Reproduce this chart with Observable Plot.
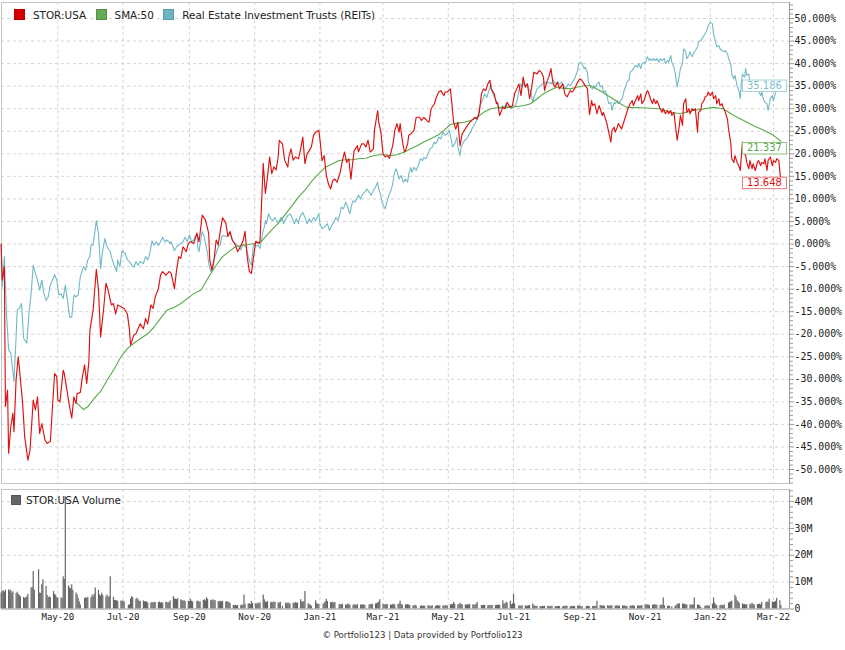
<!DOCTYPE html>
<html>
<head>
<meta charset="utf-8">
<script src="https://cdn.jsdelivr.net/npm/d3@7"></script>
<script src="https://cdn.jsdelivr.net/npm/@observablehq/plot@0.6"></script>
<style>
  html,body{margin:0;padding:0;background:#fff;}
  #chart{position:relative;width:845px;height:650px;overflow:hidden;background:#fff;}
  #main,#vol{position:absolute;left:0;}
  #main{top:0;} #vol{top:485px;}
  .legend{position:absolute;display:flex;align-items:center;height:13px;font:10.4px "DejaVu Sans";color:#222;white-space:nowrap;}
  .legend .item{display:flex;align-items:center;margin-right:9.5px;}
  .legend .sw{width:11px;height:11px;margin-right:8px;box-sizing:border-box;border:1px solid rgba(0,0,0,0.15);}
  #legVol .sw{width:10px;height:10px;margin-right:5px;}
  #caption{position:absolute;left:0;width:845px;top:630px;text-align:center;font:8.6px "DejaVu Sans";color:#333;}
</style>
</head>
<body>
<div id="chart">
  <div id="main"></div>
  <div id="vol"></div>
  <div class="legend" id="legMain" style="left:14px;top:8px;"></div>
  <div class="legend" id="legVol" style="left:11px;top:494px;height:12px;"></div>
  <div id="caption"></div>
</div>
<script>
// ---------- names, colours, ticks ----------
const seriesNames = ["STOR:USA", "SMA:50", "Real Estate Investment Trusts (REITs)"];
const seriesColors = ["#dd1111", "#55aa48", "#72b9c6"];
const swatchColors = ["#d40000", "#66aa55", "#6db5c3"];
const labelTextColors = ["#dd1111", "#5aaa4c", "#7dbfcc"];
const labelBorderColors = ["#e47777", "#8cc77f", "#a3d2db"];
const lastValues = [13.648, 21.337, 35.186];
const volumeName = "STOR:USA Volume";
const volumeColor = "#666666";
const captionText = "© Portfolio123 | Data provided by Portfolio123";
const monthTicks = ["2020-05-01","2020-07-01","2020-09-01","2020-11-01","2021-01-01","2021-03-01","2021-05-01","2021-07-01","2021-09-01","2021-11-01","2022-01-01","2022-03-01"];
const pctTicks = [-50,-45,-40,-35,-30,-25,-20,-15,-10,-5,0,5,10,15,20,25,30,35,40,45,50];
const volTicks = [0,10,20,30,40];
const volTickLabels = ["0","10M","20M","30M","40M"];

// ---------- STOR:USA (% change) ----------
const stor = [
["2020-03-09",0],["2020-03-10",-8],["2020-03-12",-5],["2020-03-13",-36],["2020-03-15",-32.4],["2020-03-16",-46.4],["2020-03-18",-40.5],["2020-03-20",-37.5],["2020-03-21",-41.6],["2020-03-23",-30],["2020-03-25",-25],["2020-03-27",-30],["2020-03-29",-35],["2020-03-31",-42.7],
["2020-04-03",-47.9],["2020-04-05",-45.7],["2020-04-08",-34.6],["2020-04-10",-36.8],["2020-04-12",-33.9],["2020-04-14",-42],["2020-04-16",-39.8],["2020-04-19",-43.5],["2020-04-21",-44.2],["2020-04-24",-43.8],["2020-04-26",-36.1],["2020-04-28",-28.7],["2020-04-30",-29.4],
["2020-05-01",-34.6],["2020-05-03",-35],["2020-05-06",-28],["2020-05-07",-28.7],["2020-05-09",-31.6],["2020-05-12",-36.1],["2020-05-14",-38.6],["2020-05-16",-33.9],["2020-05-18",-35.4],["2020-05-19",-33.2],["2020-05-22",-32.9],["2020-05-24",-29.4],["2020-05-26",-26.8],["2020-05-28",-30.9],["2020-05-30",-26.1],["2020-05-31",-19.1],
["2020-06-03",-14.6],["2020-06-06",-5.6],["2020-06-08",-10.2],["2020-06-10",-20.6],["2020-06-13",-13.9],["2020-06-15",-8.7],["2020-06-17",-10.2],["2020-06-20",-13.5],["2020-06-22",-13.2],["2020-06-24",-15.5],["2020-06-26",-13.5],["2020-06-29",-13.9],
["2020-07-02",-14.3],["2020-07-05",-15.5],["2020-07-07",-19.1],["2020-07-08",-22.4],["2020-07-11",-20.2],["2020-07-13",-19.9],["2020-07-15",-18.8],["2020-07-17",-17.7],["2020-07-20",-18.8],["2020-07-22",-16.5],["2020-07-24",-17.7],["2020-07-27",-13.5],["2020-07-29",-14.3],["2020-07-31",-11.8],
["2020-08-03",-9.9],["2020-08-05",-6.9],["2020-08-07",-6.1],["2020-08-10",-6.9],["2020-08-13",-6.1],["2020-08-15",-6.5],["2020-08-18",-9.9],["2020-08-20",-5.8],["2020-08-22",-2.8],["2020-08-24",-3.2],["2020-08-26",-0.6],["2020-08-29",-1.7],["2020-08-31",0.15],
["2020-09-02",0.5],["2020-09-05",0.1],["2020-09-08",2.4],["2020-09-10",0.5],["2020-09-13",6.4],["2020-09-16",5.3],["2020-09-19",2.4],["2020-09-20",-3.5],["2020-09-22",-5.8],["2020-09-24",-3.5],["2020-09-26",0.9],["2020-09-28",-0.2],["2020-09-30",3.2],
["2020-10-02",5.8],["2020-10-05",4.7],["2020-10-07",1.7],["2020-10-09",2.8],["2020-10-11",0.9],["2020-10-14",-0.2],["2020-10-16",-1.7],["2020-10-18",-0.9],["2020-10-21",0.6],["2020-10-23",2.8],["2020-10-25",-2.8],["2020-10-27",-6.1],["2020-10-29",-6.5],["2020-10-31",-2.8],
["2020-11-02",0.6],["2020-11-05",0.1],["2020-11-06",0.6],["2020-11-09",17.9],["2020-11-11",11.2],["2020-11-13",14.9],["2020-11-15",19.3],["2020-11-17",15.6],["2020-11-19",17.1],["2020-11-21",16.4],["2020-11-23",19.3],["2020-11-24",23],["2020-11-27",22.2],["2020-11-29",18.6],
["2020-12-02",17.1],["2020-12-03",19.3],["2020-12-05",21.1],["2020-12-07",18.6],["2020-12-09",19.3],["2020-12-12",18.9],["2020-12-14",21.1],["2020-12-16",23.7],["2020-12-18",17.8],["2020-12-20",20],["2020-12-22",20.7],["2020-12-24",21.5],["2020-12-26",24.1],["2020-12-28",24.8],["2020-12-31",25.2],
["2021-01-01",23.3],["2021-01-03",18.5],["2021-01-05",19.6],["2021-01-07",15.2],["2021-01-09",13.3],["2021-01-11",12.2],["2021-01-13",14.1],["2021-01-15",14.4],["2021-01-17",13.7],["2021-01-20",15.9],["2021-01-22",18.5],["2021-01-24",20.4],["2021-01-26",18.1],["2021-01-28",18.9],["2021-01-30",14.4],["2021-01-31",16.7],
["2021-02-02",20.7],["2021-02-05",21.8],["2021-02-06",20.4],["2021-02-09",22.2],["2021-02-11",22.2],["2021-02-13",21.5],["2021-02-15",23],["2021-02-17",20.4],["2021-02-20",21.1],["2021-02-21",25.2],["2021-02-24",29.6],["2021-02-25",27],["2021-02-27",24.8],
["2021-03-01",20],["2021-03-03",19.3],["2021-03-05",19.6],["2021-03-07",19],["2021-03-10",21.8],["2021-03-11",23.3],["2021-03-12",25.2],["2021-03-14",26.7],["2021-03-16",24.8],["2021-03-17",26.7],["2021-03-19",23],["2021-03-21",20.4],["2021-03-22",20.7],["2021-03-24",22.2],["2021-03-25",24.1],["2021-03-27",24.4],["2021-03-30",25.2],
["2021-04-01",28.1],["2021-04-04",28.1],["2021-04-06",27.4],["2021-04-08",28.1],["2021-04-11",27.4],["2021-04-13",27],["2021-04-15",30],["2021-04-18",31.1],["2021-04-20",32.6],["2021-04-22",33.7],["2021-04-24",34],["2021-04-27",32.9],["2021-04-28",33.7],["2021-04-30",33.7],
["2021-05-03",34.4],["2021-05-05",29.6],["2021-05-06",27],["2021-05-08",25.5],["2021-05-10",27],["2021-05-12",21.8],["2021-05-14",24.4],["2021-05-16",25.2],["2021-05-19",26.3],["2021-05-21",27],["2021-05-23",27.4],["2021-05-26",28.1],["2021-05-28",27.7],["2021-05-30",29.2],
["2021-06-01",33.3],["2021-06-03",34.4],["2021-06-05",34],["2021-06-07",35.5],["2021-06-09",36.3],["2021-06-10",34.4],["2021-06-13",33.3],["2021-06-15",31.1],["2021-06-16",31.4],["2021-06-18",28.5],["2021-06-21",30.3],["2021-06-23",30],["2021-06-25",31.4],["2021-06-28",30.3],["2021-06-30",30.7],
["2021-07-02",33.3],["2021-07-04",34.4],["2021-07-06",35.5],["2021-07-08",32.9],["2021-07-10",37],["2021-07-12",34.8],["2021-07-14",35.5],["2021-07-16",32.2],["2021-07-18",34.8],["2021-07-20",38.1],["2021-07-23",37.7],["2021-07-25",38.5],["2021-07-27",38.1],["2021-07-29",37],["2021-07-30",34],
["2021-08-01",35.9],["2021-08-03",37],["2021-08-05",38.9],["2021-08-07",35.5],["2021-08-09",34.8],["2021-08-11",35.9],["2021-08-13",34.4],["2021-08-16",35.5],["2021-08-18",33.3],["2021-08-20",32.6],["2021-08-23",34],["2021-08-25",33.7],["2021-08-27",34.4],["2021-08-30",35.9],
["2021-09-01",36.6],["2021-09-03",36.3],["2021-09-05",35.5],["2021-09-06",35.1],["2021-09-08",34.5],["2021-09-10",28.7],["2021-09-12",31.8],["2021-09-13",30.7],["2021-09-15",31.1],["2021-09-17",28.9],["2021-09-19",30.7],["2021-09-20",30],["2021-09-22",28.5],["2021-09-23",29.2],["2021-09-26",27],["2021-09-28",24.8],["2021-09-30",22.6],
["2021-10-01",25.2],["2021-10-03",25.9],["2021-10-04",24.8],["2021-10-06",25.9],["2021-10-07",26.7],["2021-10-10",25.5],["2021-10-12",27],["2021-10-14",28.5],["2021-10-16",30],["2021-10-18",31.1],["2021-10-20",31.8],["2021-10-21",30.7],["2021-10-23",31.8],["2021-10-25",32.9],["2021-10-26",31.8],["2021-10-28",33.3],["2021-10-29",31.1],["2021-10-31",31.8],
["2021-11-01",32.6],["2021-11-03",34],["2021-11-04",33.7],["2021-11-06",32.2],["2021-11-08",31.1],["2021-11-09",32.2],["2021-11-11",31.1],["2021-11-12",31.8],["2021-11-14",30.7],["2021-11-15",30],["2021-11-17",29.2],["2021-11-18",30],["2021-11-20",28.9],["2021-11-22",29.6],["2021-11-23",28.9],["2021-11-25",29.6],["2021-11-26",28.5],["2021-11-28",29.2],["2021-11-29",27],
["2021-12-01",23],["2021-12-03",26.3],["2021-12-04",28.5],["2021-12-06",26.3],["2021-12-07",31.1],["2021-12-09",32.2],["2021-12-10",29.2],["2021-12-12",30],["2021-12-13",28.9],["2021-12-15",30],["2021-12-16",29.6],["2021-12-18",30],["2021-12-20",24.8],["2021-12-21",29.2],["2021-12-23",29.6],["2021-12-24",31.1],["2021-12-26",31.8],["2021-12-27",32.6],["2021-12-29",32.9],["2021-12-30",33.7],
["2022-01-01",32.9],["2022-01-03",33.7],["2022-01-04",32.2],["2022-01-06",32.9],["2022-01-07",31.1],["2022-01-09",32.2],["2022-01-10",30.7],["2022-01-12",31.1],["2022-01-13",30.3],["2022-01-15",29.2],["2022-01-17",27.7],["2022-01-18",25.5],["2022-01-20",22.6],["2022-01-21",18.9],["2022-01-23",18.1],["2022-01-24",19.6],["2022-01-26",18.1],["2022-01-28",17.1],["2022-01-29",16.3],["2022-01-31",22.6],
["2022-02-01",20.4],["2022-02-03",19.6],["2022-02-04",18.1],["2022-02-06",16.7],["2022-02-07",18.5],["2022-02-09",16.7],["2022-02-10",17.8],["2022-02-12",16.3],["2022-02-14",18.1],["2022-02-15",18.5],["2022-02-17",17.4],["2022-02-18",18.1],["2022-02-20",17.8],["2022-02-21",18.9],["2022-02-23",16.3],["2022-02-24",18.5],["2022-02-26",19.3],["2022-02-28",17.4],
["2022-03-01",18.5],["2022-03-03",18.1],["2022-03-04",18.9],["2022-03-06",18.5],["2022-03-08",13.648]
];

// ---------- SMA:50 of STOR ----------
const sma50 = [
["2020-05-19",-35.3],["2020-05-25",-36.7],["2020-05-29",-36.1],["2020-06-04",-34.2],["2020-06-10",-32.7],["2020-06-16",-30.2],["2020-06-23",-27.6],["2020-06-29",-25.0],
["2020-07-05",-23.2],["2020-07-11",-22.0],["2020-07-17",-21.0],["2020-07-24",-19.9],["2020-07-30",-18.4],["2020-08-05",-16.5],["2020-08-11",-14.7],["2020-08-18",-14.0],["2020-08-24",-13.2],["2020-08-30",-12.1],
["2020-09-05",-11.0],["2020-09-12",-10.2],["2020-09-19",-7.3],["2020-09-26",-4.7],["2020-10-02",-2.8],["2020-10-08",-1.7],["2020-10-14",-0.6],["2020-10-21",-0.2],["2020-10-27",-0.1],["2020-10-31",0.1],
["2020-11-07",0.5],["2020-11-11",1.6],["2020-11-18",3.4],["2020-11-24",4.8],["2020-11-30",6.7],["2020-12-06",8.5],["2020-12-12",10.4],["2020-12-19",12.2],["2020-12-25",14.1],["2020-12-31",15.6],
["2021-01-06",17.0],["2021-01-13",17.8],["2021-01-19",18.5],["2021-01-25",18.7],["2021-01-31",18.7],["2021-02-06",18.9],["2021-02-13",19.0],["2021-02-19",19.5],["2021-02-25",19.8],
["2021-03-03",19.8],["2021-03-08",19.6],["2021-03-14",19.8],["2021-03-21",20.4],["2021-03-27",21.1],["2021-04-02",21.8],["2021-04-08",22.6],["2021-04-14",23.3],["2021-04-21",24.1],["2021-04-27",25.2],
["2021-05-03",26.5],["2021-05-09",26.8],["2021-05-16",27.0],["2021-05-22",27.4],["2021-05-28",28.1],["2021-06-03",29.2],["2021-06-10",30.0],["2021-06-16",30.2],["2021-06-22",30.3],["2021-06-28",30.3],
["2021-07-04",30.5],["2021-07-11",30.7],["2021-07-17",31.1],["2021-07-23",32.2],["2021-07-29",33.3],["2021-08-05",34.2],["2021-08-11",34.8],["2021-08-17",34.5],["2021-08-23",34.4],["2021-08-30",34.8],
["2021-09-05",35.1],["2021-09-11",35.1],["2021-09-20",34.0],["2021-09-30",32.5],["2021-10-09",31.1],["2021-10-15",30.3],["2021-10-28",30.2],["2021-11-15",30.0],["2021-11-25",29.2],
["2021-12-04",28.9],["2021-12-16",29.6],["2022-01-04",30.3],["2022-01-13",30.0],["2022-01-23",28.5],["2022-02-01",27.4],["2022-02-10",26.3],["2022-02-20",25.2],["2022-03-01",24.1],["2022-03-08",22.8]
];

// ---------- Real Estate Investment Trusts (REITs) ----------
const reits = [
["2020-03-09",0],["2020-03-10",-9.5],["2020-03-12",-2.8],["2020-03-14",-15.4],["2020-03-16",-23.5],["2020-03-18",-24.2],["2020-03-21",-30.5],["2020-03-23",-20.5],["2020-03-24",-14.6],["2020-03-26",-14.3],["2020-03-28",-13.2],["2020-03-30",-20.9],
["2020-04-02",-22],["2020-04-04",-15.4],["2020-04-06",-11],["2020-04-08",-4.7],["2020-04-10",-6.5],["2020-04-12",-8],["2020-04-14",-10.2],["2020-04-16",-8],["2020-04-18",-11],["2020-04-20",-12.5],["2020-04-22",-11.7],["2020-04-24",-9.1],["2020-04-28",-6.8],["2020-04-30",-8],
["2020-05-02",-11.3],["2020-05-04",-11],["2020-05-06",-12.1],["2020-05-08",-9.1],["2020-05-10",-12.5],["2020-05-12",-16.2],["2020-05-14",-16.2],["2020-05-16",-11.3],["2020-05-18",-11.7],["2020-05-20",-11.3],["2020-05-22",-7.3],["2020-05-25",-5],["2020-05-27",-5.8],["2020-05-29",-3.5],["2020-05-31",-2.8],
["2020-06-01",-0.2],["2020-06-03",-0.2],["2020-06-06",5.2],["2020-06-08",2.4],["2020-06-10",-5.4],["2020-06-12",-1.3],["2020-06-14",1.2],["2020-06-16",-0.6],["2020-06-19",-1.7],["2020-06-20",-2.8],["2020-06-23",-5],["2020-06-25",-6.1],["2020-06-26",-3.5],["2020-06-28",-5],["2020-06-30",-1.5],
["2020-07-03",-2.1],["2020-07-05",-3.5],["2020-07-07",-3.9],["2020-07-09",-4.7],["2020-07-11",-5.2],["2020-07-13",-3.9],["2020-07-15",-4.7],["2020-07-17",-3.9],["2020-07-20",-4.3],["2020-07-22",-2.8],["2020-07-24",-3.5],["2020-07-26",-2.1],["2020-07-28",0.7],["2020-07-30",-0.3],
["2020-08-01",0.5],["2020-08-03",-0.3],["2020-08-05",0.5],["2020-08-07",1.5],["2020-08-09",0.5],["2020-08-11",0.9],["2020-08-14",0.1],["2020-08-15",0.5],["2020-08-18",-1.5],["2020-08-20",-0.6],["2020-08-22",-0.2],["2020-08-24",0.1],["2020-08-26",0.5],["2020-08-28",1.5],["2020-08-30",0.5],
["2020-09-01",2.0],["2020-09-03",0.5],["2020-09-05",0.9],["2020-09-08",2.4],["2020-09-09",-1.0],["2020-09-10",-1.7],["2020-09-12",1.6],["2020-09-13",2.7],["2020-09-15",1.6],["2020-09-16",0.1],["2020-09-18",-2.1],["2020-09-19",-4.3],["2020-09-21",-6.1],["2020-09-23",-5.4],["2020-09-24",-3.5],["2020-09-26",-2.1],["2020-09-28",-0.6],["2020-09-30",-0.2],
["2020-10-01",1.6],["2020-10-03",1.9],["2020-10-06",1.6],["2020-10-08",2.4],["2020-10-10",1.6],["2020-10-12",0.5],["2020-10-14",0.1],["2020-10-17",-0.6],["2020-10-19",-1.3],["2020-10-21",-0.2],["2020-10-24",-0.6],["2020-10-26",-2.8],["2020-10-28",-4.3],["2020-10-29",-4.7],["2020-10-31",0.1],
["2020-11-02",-0.6],["2020-11-04",-0.2],["2020-11-06",-1],["2020-11-09",3.0],["2020-11-10",3.7],["2020-11-11",5.2],["2020-11-12",4.5],["2020-11-14",6.7],["2020-11-16",5.6],["2020-11-18",5.2],["2020-11-20",5.9],["2020-11-22",4.8],["2020-11-24",5.2],["2020-11-26",5.9],["2020-11-28",4.5],["2020-11-30",5.6],
["2020-12-02",6.3],["2020-12-04",6.7],["2020-12-06",5.9],["2020-12-08",4.5],["2020-12-10",5.6],["2020-12-12",4.5],["2020-12-13",5.9],["2020-12-16",7.0],["2020-12-18",5.9],["2020-12-20",4.5],["2020-12-22",5.6],["2020-12-24",4.8],["2020-12-26",5.9],["2020-12-28",5.2],["2020-12-31",6.7],
["2021-01-01",4.5],["2021-01-03",3.4],["2021-01-05",3.7],["2021-01-08",4.5],["2021-01-10",3.0],["2021-01-12",4.1],["2021-01-14",4.8],["2021-01-16",5.9],["2021-01-18",5.2],["2021-01-20",7.0],["2021-01-21",8.2],["2021-01-23",7.8],["2021-01-25",9.3],["2021-01-27",8.2],["2021-01-29",6.7],["2021-01-31",8.9],
["2021-02-01",9.6],["2021-02-03",9.3],["2021-02-06",10.8],["2021-02-08",10.0],["2021-02-10",11.1],["2021-02-12",11.5],["2021-02-14",12.2],["2021-02-16",11.5],["2021-02-18",10.8],["2021-02-20",11.9],["2021-02-22",12.6],["2021-02-24",13.7],["2021-02-25",12.2],["2021-02-27",10.8],["2021-02-28",9.3],
["2021-03-02",8.2],["2021-03-03",7.8],["2021-03-05",9.6],["2021-03-07",11.1],["2021-03-08",11.5],["2021-03-10",13.3],["2021-03-11",15],["2021-03-13",16.7],["2021-03-14",16.3],["2021-03-16",14.4],["2021-03-18",15.2],["2021-03-20",13.7],["2021-03-22",14.4],["2021-03-24",13.7],["2021-03-25",15.5],["2021-03-27",17.0],["2021-03-28",15.9],["2021-03-30",17.0],
["2021-04-01",16.3],["2021-04-03",17.4],["2021-04-05",18.9],["2021-04-07",18.5],["2021-04-08",19.2],["2021-04-10",18.9],["2021-04-12",20.0],["2021-04-14",21.1],["2021-04-16",21.5],["2021-04-18",22.6],["2021-04-19",22.2],["2021-04-21",22.9],["2021-04-22",23.7],["2021-04-24",23.3],["2021-04-26",24.8],["2021-04-28",24.1],["2021-04-30",24.4],
["2021-05-02",25.2],["2021-05-04",22.9],["2021-05-05",21.5],["2021-05-07",22.2],["2021-05-09",23.7],["2021-05-10",21.5],["2021-05-12",19.6],["2021-05-13",21.5],["2021-05-16",22.9],["2021-05-18",23.3],["2021-05-20",24.1],["2021-05-22",24.8],["2021-05-23",25.5],["2021-05-25",26.3],["2021-05-26",26.7],["2021-05-29",28.1],["2021-05-30",30.3],
["2021-06-01",31.4],["2021-06-03",32.5],["2021-06-04",33.3],["2021-06-06",32.5],["2021-06-08",34.0],["2021-06-10",35.5],["2021-06-11",34.0],["2021-06-13",32.5],["2021-06-14",32.2],["2021-06-16",31.1],["2021-06-18",30.0],["2021-06-21",30.7],["2021-06-22",30.0],["2021-06-24",31.1],["2021-06-25",30.3],["2021-06-27",30.7],["2021-06-29",30.0],["2021-06-30",30.3],
["2021-07-03",30.7],["2021-07-05",32.5],["2021-07-06",34.0],["2021-07-08",35.5],["2021-07-09",34.8],["2021-07-11",35.9],["2021-07-12",34.8],["2021-07-14",35.5],["2021-07-15",34.4],["2021-07-17",34.0],["2021-07-19",31.4],["2021-07-20",32.5],["2021-07-22",33.7],["2021-07-23",34.4],["2021-07-25",34.8],["2021-07-26",35.1],["2021-07-28",35.5],["2021-07-30",35.9],
["2021-08-01",35.5],["2021-08-03",35.9],["2021-08-05",35.5],["2021-08-07",36.3],["2021-08-09",35.5],["2021-08-11",35.9],["2021-08-13",35.5],["2021-08-15",35.9],["2021-08-17",35.1],["2021-08-19",34.4],["2021-08-21",35.5],["2021-08-23",35.1],["2021-08-25",35.9],["2021-08-27",36.6],["2021-08-30",38.5],["2021-08-31",40.0],
["2021-09-02",40.3],["2021-09-03",40.0],["2021-09-05",38.9],["2021-09-06",39.2],["2021-09-08",38.0],["2021-09-09",36.0],["2021-09-11",34.8],["2021-09-13",34.4],["2021-09-14",35.1],["2021-09-16",34.8],["2021-09-17",35.5],["2021-09-19",35.9],["2021-09-20",34.8],["2021-09-22",35.1],["2021-09-23",33.7],["2021-09-25",34.0],["2021-09-27",32.2],["2021-09-28",31.1],["2021-09-30",31.4],
["2021-10-01",29.6],["2021-10-03",31.4],["2021-10-04",31.1],["2021-10-06",31.8],["2021-10-07",31.1],["2021-10-09",31.8],["2021-10-11",32.5],["2021-10-12",33.7],["2021-10-14",35.1],["2021-10-15",35.9],["2021-10-17",36.3],["2021-10-18",38.1],["2021-10-20",38.5],["2021-10-21",38.9],["2021-10-23",39.6],["2021-10-25",39.2],["2021-10-26",40.0],["2021-10-28",38.9],["2021-10-29",40.0],["2021-10-31",40.3],
["2021-11-01",40.0],["2021-11-03",41.5],["2021-11-05",40.7],["2021-11-06",41.1],["2021-11-08",40.7],["2021-11-09",41.1],["2021-11-11",40.7],["2021-11-12",41.1],["2021-11-14",40.3],["2021-11-15",41.1],["2021-11-17",40.7],["2021-11-19",41.1],["2021-11-20",40.0],["2021-11-22",40.7],["2021-11-23",40.3],["2021-11-25",41.8],["2021-11-26",40.3],["2021-11-28",39.2],["2021-11-29",38.1],
["2021-12-01",34.8],["2021-12-03",37.4],["2021-12-04",38.9],["2021-12-06",40.0],["2021-12-07",43.3],["2021-12-09",42.6],["2021-12-10",41.1],["2021-12-12",41.8],["2021-12-13",42.6],["2021-12-15",41.5],["2021-12-16",42.2],["2021-12-18",42.9],["2021-12-20",43.7],["2021-12-21",44.8],["2021-12-23",45.1],["2021-12-24",45.5],["2021-12-26",46.2],["2021-12-28",47.0],["2021-12-29",47.7],["2021-12-30",48.4],
["2022-01-01",49.2],["2022-01-03",48.8],["2022-01-04",46.6],["2022-01-06",44.7],["2022-01-07",43.7],["2022-01-09",44.0],["2022-01-10",43.3],["2022-01-12",42.9],["2022-01-14",42.6],["2022-01-15",42.9],["2022-01-17",42.2],["2022-01-18",41.1],["2022-01-20",40.0],["2022-01-21",37.7],["2022-01-23",36.6],["2022-01-24",37.4],["2022-01-26",35.1],["2022-01-28",33.7],["2022-01-29",32.2],["2022-01-30",35.9],["2022-01-31",37.7],
["2022-02-02",37.0],["2022-02-03",38.9],["2022-02-04",37.4],["2022-02-06",37.7],["2022-02-07",35.9],["2022-02-09",35.1],["2022-02-10",34.0],["2022-02-12",35.9],["2022-02-14",35.1],["2022-02-15",34.0],["2022-02-17",32.9],["2022-02-18",33.7],["2022-02-20",31.8],["2022-02-21",31.4],["2022-02-23",31.1],["2022-02-24",29.6],["2022-02-26",32.2],["2022-02-28",32.9],
["2022-03-01",31.8],["2022-03-03",33.7],["2022-03-04",34.8],["2022-03-06",36.3],["2022-03-08",35.186]
];

// ---------- STOR:USA daily volume (millions), one string per month, weekdays in order (0 = market holiday) ----------
const volumeMonths = ["2020-03-09","2020-04-01","2020-05-01","2020-06-01","2020-07-01","2020-08-01","2020-09-01","2020-10-01","2020-11-01","2020-12-01","2021-01-01","2021-02-01","2021-03-01","2021-04-01","2021-05-01","2021-06-01","2021-07-01","2021-08-01","2021-09-01","2021-10-01","2021-11-01","2021-12-01","2022-01-01","2022-02-01","2022-03-01"];
const volumeValues = [
"6.0 6.5 6.8 6.2 7.0 7.2 6.6 7.0 6.0 6.4 5.8 6.2 5.5 5.0 4.6 4.3 4.0",
"4.2 4.6 5.5 7.8 8.0 14.0 7.0 0 14.6 6.0 5.8 9.0 10.9 8.4 5.0 4.3 4.5 4.2 6.5 5.5 5.0 4.2",
"4.0 4.2 3.8 12.0 11.0 41.7 8.6 7.8 7.5 9.0 7.0 6.0 5.2 4.0 2.7 1.5 0 4.0 4.2 3.9 4.4",
"4.2 5.2 4.6 5.5 7.8 7.0 5.2 4.8 5.9 5.0 4.6 5.2 4.4 4.6 12.0 4.4 3.2 3.0 3.2 2.8 3.0 2.9",
"3.0 2.6 0 1.4 1.6 3.8 4.6 4.2 3.6 4.0 3.4 2.8 2.9 3.0 2.6 2.8 2.5 2.2 2.1 2.4 2.2 2.5 2.3",
"2.3 2.6 2.2 2.4 2.1 2.5 2.3 2.2 2.4 3.0 4.6 3.8 3.6 3.5 3.9 3.4 3.2 2.9 3.1 2.7 2.9",
"2.8 3.6 2.9 2.6 0 2.8 3.0 2.5 2.7 3.2 3.4 3.0 4.2 3.6 3.3 3.1 3.4 3.0 3.2 2.8 2.6 2.9",
"2.7 2.9 2.6 2.8 2.4 2.5 2.0 1.3 1.2 1.4 1.1 1.3 1.2 1.5 1.3 5.2 1.8 1.9 2.0 1.7 2.8 2.0",
"2.0 1.8 2.2 1.9 2.3 5.2 3.4 2.6 2.4 2.8 2.3 2.5 2.2 2.6 2.4 2.3 2.1 2.5 0 1.0 2.2",
"2.0 2.2 2.1 1.9 2.2 2.0 2.4 2.1 2.3 3.4 2.6 2.5 2.8 6.5 2.0 1.6 1.5 1.0 0 3.1 2.0 1.8 1.6",
"0 1.8 2.2 2.6 3.6 2.8 2.4 2.3 2.5 2.2 2.4 0 1.7 1.5 1.6 1.8 1.5 1.4 1.9 1.6 1.5",
"1.4 1.6 1.5 1.3 1.7 1.5 1.4 1.6 1.5 1.3 0 1.5 1.7 1.6 1.8 1.9 2.0 2.2 2.6 3.4",
"1.8 1.6 1.5 1.7 1.6 1.5 1.4 1.6 1.8 1.5 1.7 1.9 2.9 1.6 1.5 1.6 1.4 1.7 1.5 1.3 1.2 1.1 1.4",
"1.1 0 1.0 1.2 0.9 1.1 1.0 1.2 1.0 1.1 0.9 1.2 1.0 1.1 1.3 1.0 1.2 1.1 1.0 1.3 1.2 1.1",
"1.5 1.7 1.6 2.4 1.8 1.6 1.5 2.1 1.7 1.6 1.5 1.4 1.6 1.5 1.7 1.6 1.4 1.5 1.8 2.4 0",
"1.3 1.2 1.4 1.3 1.2 1.3 1.1 1.4 1.3 1.2 1.4 1.3 1.5 1.3 3.1 1.8 1.9 2.5 2.2 2.9 1.6 1.9",
"5.4 1.9 0 1.2 1.1 1.0 1.2 1.1 1.0 1.1 1.2 1.3 1.9 1.2 1.0 0.9 1.0 0.9 0.8 1.0 0.9 1.0",
"0.9 1.0 0.8 0.9 1.0 0.9 0.8 0.9 1.0 0.9 0.8 0.9 1.0 1.1 0.9 0.8 0.9 1.0 0.9 1.0 1.1 1.2",
"1.0 0.9 0.8 0 0.9 1.0 0.9 0.8 0.9 1.0 0.9 1.0 2.9 1.3 1.2 1.1 1.0 1.1 1.2 1.0 1.1 1.2",
"1.1 1.0 1.2 1.1 1.0 1.1 1.2 1.0 1.1 0.9 1.0 1.1 1.0 1.2 1.1 1.0 1.1 1.2 1.0 1.1 1.3",
"1.5 1.4 1.6 1.5 1.3 1.5 1.4 1.6 1.5 1.4 1.3 1.5 1.4 4.1 1.2 1.0 1.1 0.9 0 0.7 1.0 1.2",
"1.8 1.9 2.0 1.8 1.9 1.7 1.6 1.5 1.5 1.4 1.6 1.5 4.1 1.5 1.4 1.2 0.6 0 1.0 1.1 1.2 1.0 1.1",
"1.8 4.1 2.1 1.5 1.3 1.2 1.4 1.3 1.2 1.5 0 2.2 2.5 2.6 3.0 5.1 4.4 3.1 2.6 2.1 1.9",
"1.6 1.7 1.5 1.6 1.8 1.6 2.1 1.7 1.5 1.6 1.7 1.8 1.6 2.5 0 2.4 2.6 2.5 3.6 2.6",
"2.4 2.6 2.8 4.0 3.1 1.3"
];

// ---------- build tables ----------
const parse = d3.utcParse("%Y-%m-%d");
const toRows = arr => arr.map(([d, v]) => ({date: parse(d), value: v}));
const storRows = toRows(stor), smaRows = toRows(sma50), reitRows = toRows(reits);
const volume = [];
volumeMonths.forEach((m, i) => {
  const start = parse(m);
  const end = d3.utcMonth.offset(d3.utcMonth.floor(start), 1);
  const days = d3.utcDay.range(start, end).filter(d => d.getUTCDay() % 6 !== 0);
  volumeValues[i].split(" ").map(Number).forEach((v, j) => {
    if (v > 0 && days[j]) volume.push({date: days[j], v});
  });
});
const tickDates = monthTicks.map(parse);
const lastDate = storRows[storRows.length - 1].date;
const labelRows = lastValues.map((v, i) => ({date: lastDate, value: v, text: v.toFixed(3), color: labelTextColors[i]}));
const labelTexts = labelRows.map(d => d.text);
const pctMinor = d3.range(-53, 54).filter(d => d % 5 !== 0);
const volMinor = d3.range(0, 45, 2).filter(d => d % 10 !== 0);

const xDomain = [new Date(Date.UTC(2020, 2, 9, 8)), new Date(Date.UTC(2022, 2, 16))];
const grid = {stroke: "#d4d4d4", strokeOpacity: 1, strokeDasharray: "3,3"};
const axisStyle = {fontFamily: "DejaVu Sans Mono", fontSize: "9.9px", color: "#222", background: "transparent", overflow: "visible"};

// ---------- main panel ----------
const main = Plot.plot({
  width: 845, height: 485,
  marginLeft: 1, marginRight: 56, marginTop: 2, marginBottom: 2,
  style: axisStyle,
  x: {type: "utc", domain: xDomain, axis: null},
  y: {domain: [-53.1, 53.55], axis: null},
  marks: [
    Plot.gridX(tickDates, grid),
    Plot.gridY(pctTicks, grid),
    Plot.frame({stroke: "#c4c4c4"}),
    Plot.axisY(pctMinor, {anchor: "right", tickSize: 3, tickFormat: () => "", stroke: "#999", label: null}),
    Plot.axisY(pctTicks, {anchor: "right", tickSize: 4, tickPadding: 1, tickFormat: d => d.toFixed(3) + "%", stroke: "#999", fill: "#222", label: null}),
    Plot.ruleX([xDomain[1]], {stroke: "#9a9a9a"}),
    Plot.line(reitRows, {x: "date", y: "value", stroke: seriesColors[2], strokeWidth: 1.1}),
    Plot.line(smaRows, {x: "date", y: "value", stroke: seriesColors[1], strokeWidth: 1.1}),
    Plot.line(storRows, {x: "date", y: "value", stroke: seriesColors[0], strokeWidth: 1.15}),
    Plot.text(labelRows, {x: "date", y: "value", text: "text", fill: "color", textAnchor: "end", dx: 1,
      fontFamily: "DejaVu Sans", fontSize: 10})
  ]
});
document.getElementById("main").append(main);

// boxes behind the last-value labels
Array.from(main.querySelectorAll("text"))
  .filter(t => labelTexts.includes(t.textContent))
  .forEach(t => {
    const i = labelTexts.indexOf(t.textContent);
    const b = t.getBBox();
    const r = document.createElementNS("http://www.w3.org/2000/svg", "rect");
    r.setAttribute("x", b.x - 4.5);
    r.setAttribute("y", b.y + 0.5);
    r.setAttribute("width", b.width + 9);
    r.setAttribute("height", b.height + 0.5);
    r.setAttribute("fill", "#fff");
    r.setAttribute("stroke", labelBorderColors[i]);
    if (t.getAttribute("transform")) r.setAttribute("transform", t.getAttribute("transform"));
    t.parentNode.insertBefore(r, t);
  });

// ---------- volume panel ----------
const vol = Plot.plot({
  width: 845, height: 145,
  marginLeft: 1, marginRight: 56, marginTop: 4, marginBottom: 21.5,
  style: axisStyle,
  x: {type: "utc", domain: xDomain, axis: null},
  y: {domain: [0, 44.5], axis: null},
  marks: [
    Plot.gridX(tickDates, grid),
    Plot.gridY(volTicks.filter(d => d > 0), grid),
    Plot.frame({stroke: "#c4c4c4"}),
    Plot.ruleX(volume, {x: "date", y1: 0, y2: "v", stroke: volumeColor, strokeWidth: 1.2}),
    Plot.axisY(volMinor, {anchor: "right", tickSize: 3, tickFormat: () => "", stroke: "#999", label: null}),
    Plot.axisY(volTicks, {anchor: "right", tickSize: 4, tickPadding: 1, tickFormat: d => volTickLabels[volTicks.indexOf(d)], stroke: "#999", fill: "#222", label: null}),
    Plot.axisX(tickDates, {anchor: "bottom", tickSize: 0, tickPadding: 5, tickFormat: d3.utcFormat("%b-%y"), fill: "#222", fontSize: 9.1, label: null}),
    Plot.ruleX([xDomain[1]], {stroke: "#9a9a9a"}),
    Plot.ruleY([0], {stroke: "#b0b0b0"})
  ]
});
document.getElementById("vol").append(vol);

// ---------- legends & caption ----------
const legMain = document.getElementById("legMain");
seriesNames.forEach((n, i) => {
  const item = document.createElement("div");
  item.className = "item";
  item.innerHTML = `<div class="sw" style="background:${swatchColors[i]}"></div><span></span>`;
  item.querySelector("span").textContent = n;
  legMain.append(item);
});
const legVol = document.getElementById("legVol");
legVol.innerHTML = `<div class="item"><div class="sw" style="background:${volumeColor}"></div><span></span></div>`;
legVol.querySelector("span").textContent = volumeName;
document.getElementById("caption").textContent = captionText;
</script>
</body>
</html>
